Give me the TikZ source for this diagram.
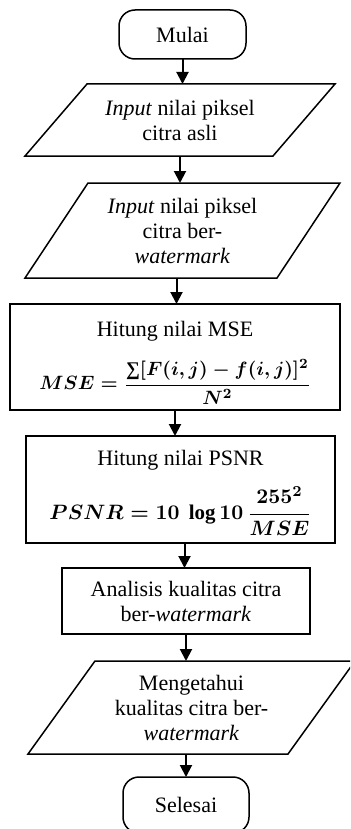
\documentclass[tikz,border=0pt]{standalone}
\usepackage{amsmath}
\usepackage{graphicx}
\usepackage{fontspec}
\setmainfont{Liberation Serif}
\usetikzlibrary{arrows.meta}

% outline of an input/output parallelogram laid over a named node
\newcommand\parapath[2]{%
  \draw[outline] ([xshift=#2]#1.north west) -- (#1.north east)
    -- ([xshift=-#2]#1.south east) -- (#1.south west) -- cycle;}
% summation sign taken from the text font
\newcommand\txtsum{\mathop{\text{\normalfont\bfseries ∑}}\nolimits}

\begin{document}
\begin{tikzpicture}[x=0.5pt,y=-0.5pt,
  outline/.style={line width=0.75pt},
  base/.style={inner sep=0pt,outer sep=0pt,align=center,
    font=\fontsize{11}{12.5}\selectfont},
  terminal/.style={base,draw,outline,rounded corners=8pt},
  process/.style={base,draw,outline},
  io/.style={base},
  arr/.style={line width=1pt,-{Triangle[length=6pt,width=6pt]}}]

\useasboundingbox (0,0) rectangle (350,829);
\clip (0,0) rectangle (350,829);

\node[terminal,minimum width=63.5pt,minimum height=24.5pt] (m) at (182.5,34.5) {Mulai};

\node[io,minimum width=155pt,minimum height=36pt] (p1) at (180,120)
  {\textit{Input} nilai piksel\\citra asli};
\parapath{p1}{31pt}

\node[io,minimum width=157.5pt,minimum height=47.5pt] (p2) at (182.5,230.5)
  {\textit{Input} nilai piksel\\citra ber-\\\textit{watermark}};
\parapath{p2}{31.5pt}

\node[process,minimum width=165pt,minimum height=53pt] (mse) at (175,357)
  {\rule{0pt}{13.5pt}Hitung nilai MSE\\[8pt]
   \scalebox{0.88}{\boldmath$\displaystyle MSE=\frac{\txtsum[F(i,j)-f(i,j)]^2}{N^2}$}};

\node[process,minimum width=154.5pt,minimum height=53.5pt] (psnr) at (180.5,489.5)
  {\rule{0pt}{11pt}Hitung nilai PSNR\\[7pt]
   \scalebox{0.95}{\boldmath$\displaystyle PSNR=10\ \log 10\,\frac{255^2}{MSE}$}};

\node[process,minimum width=124pt,minimum height=33pt] (an) at (186,601)
  {Analisis kualitas citra\\ber-\textit{watermark}};

\node[io,minimum width=163.5pt,minimum height=46.5pt] (p3) at (191.5,707.5)
  {Mengetahui\\kualitas citra ber-\\\textit{watermark}};
\parapath{p3}{33.5pt}

\node[terminal,minimum width=63pt,minimum height=28pt] (s) at (186,805) {Selesai};

\draw[arr] (m.south) -- (m.south |- p1.north);
\draw[arr] (p1.south) -- (p1.south |- p2.north);
\draw[arr] ([xshift=-3pt]p2.south) -- ([xshift=-3pt]p2.south |- mse.north);
\draw[arr] (mse.south) -- (mse.south |- psnr.north);
\draw[arr] ([xshift=2pt]psnr.south) -- ([xshift=2pt]psnr.south |- an.north);
\draw[arr] (an.south) -- (an.south |- p3.north);
\draw[arr] (s.north |- p3.south) -- (s.north);
\end{tikzpicture}
\end{document}
